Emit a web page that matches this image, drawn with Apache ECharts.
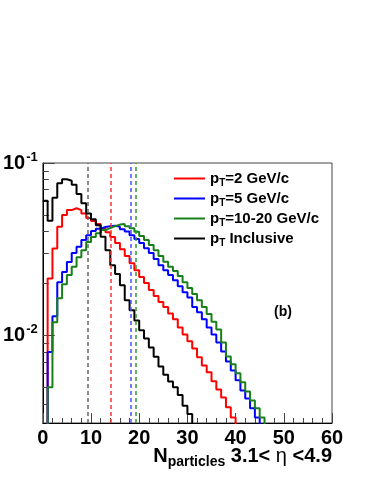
<!DOCTYPE html>
<html>
<head>
<meta charset="utf-8">
<script src="https://cdn.jsdelivr.net/npm/echarts@6/dist/echarts.min.js"></script>
<style>
  html, body { margin: 0; padding: 0; background: #fff; }
  #chart { width: 374px; height: 484px; }
</style>
</head>
<body>
<div id="chart"></div>
<script>
// bin contents, one value per unit bin starting at N = 0
const emptyBin = 0.001 // below the axis floor
const pt2 = [emptyBin, 0.0214, 0.0319, 0.0426, 0.0499, 0.0533, 0.0546, 0.0533, 0.0510, 0.0480,
  0.0461, 0.0442, 0.0420, 0.0397, 0.0372, 0.0343, 0.0316, 0.0289, 0.0262, 0.0239,
  0.0218, 0.0201, 0.0183, 0.0169, 0.0156, 0.0146, 0.0134, 0.0124, 0.0111, 0.0101,
  0.00923, 0.00840, 0.00745, 0.00669, 0.00610, 0.00541, 0.00485, 0.00436, 0.00382, 0.00334]
const pt5 = [emptyBin, 0.0080, 0.0129, 0.0203, 0.0233, 0.0266, 0.0300, 0.0327, 0.0357, 0.0381,
  0.0403, 0.0416, 0.0425, 0.0430, 0.0433, 0.0427, 0.0413, 0.0400, 0.0381, 0.0362,
  0.0343, 0.0320, 0.0300, 0.0277, 0.0255, 0.0239, 0.0224, 0.0209, 0.0193, 0.0178,
  0.0166, 0.0146, 0.0136, 0.0124, 0.0111, 0.0101, 0.00910, 0.00807, 0.00706, 0.00626,
  0.00548, 0.00479, 0.00430, 0.00377, 0.00334]
const pt10 = [emptyBin, 0.0050, 0.0119, 0.0164, 0.0198, 0.0224, 0.0250, 0.0284, 0.0312, 0.0348,
  0.0372, 0.0391, 0.0408, 0.0419, 0.0430, 0.0439, 0.0442, 0.0430, 0.0418, 0.0399,
  0.0377, 0.0357, 0.0334, 0.0312, 0.0289, 0.0267, 0.0250, 0.0236, 0.0221, 0.0203,
  0.0188, 0.0174, 0.0160, 0.0146, 0.0133, 0.0120, 0.0108, 0.0091, 0.00755, 0.00679,
  0.00602, 0.00534, 0.00473, 0.00419, 0.00377, 0.00334]
const ptIncl = [0.0604, 0.0463, 0.0629, 0.0763, 0.0804, 0.0789, 0.0749, 0.0661, 0.0584, 0.0510,
  0.0471, 0.0436, 0.0373, 0.0312, 0.0255, 0.0227, 0.0195, 0.0160, 0.0140, 0.0122,
  0.0107, 0.0096, 0.0085, 0.0075, 0.0066, 0.0059, 0.0054, 0.0050, 0.0045, 0.0039, 0.0035]

const names = ['pT=2 GeV/c', 'pT=5 GeV/c', 'pT=10-20 GeV/c', 'pT Inclusive']
const legendText = ['=2 GeV/c', '=5 GeV/c', '=10-20 GeV/c', ' Inclusive']
const colors = ['#ff0000', '#0000ff', '#17801a', '#000000']
const meanColors = ['#ff3333', '#4d4dff', '#2e9a2e', '#666666']
const means = [14.1, 18.2, 19.2, 9.3]
const hists = [pt2, pt5, pt10, ptIncl]

const xTicks = [0, 10, 20, 30, 40, 50, 60]
const yLabels = [0.01, 0.1]
const yMinor = [0.004, 0.005, 0.006, 0.007, 0.008, 0.009, 0.02, 0.03, 0.04, 0.05, 0.06, 0.07, 0.08, 0.09]
const yMin = 0.0031
const yMax = 0.1

const font = 'Liberation Sans, Arial, Helvetica, sans-serif'

// step outline: left edge of every bin, then drop at the last edge
const toSteps = vals => {
  const pts = vals.map((v, i) => [i, v])
  pts.push([vals.length, emptyBin])
  return pts
}

const chart = echarts.init(document.getElementById('chart'))

const option = {
  backgroundColor: '#fff',
  animation: false,
  grid: { left: 42, right: 42, top: 163, bottom: 61, show: true, borderColor: '#444', borderWidth: 1 },
  legend: {
    orient: 'vertical',
    left: 169,
    top: 166,
    icon: 'rect',
    itemWidth: 31,
    itemHeight: 2,
    itemGap: 3,
    data: names.slice(),
    formatter: name => '{p|p}{t|T}{p|' + legendText[names.indexOf(name)] + '}',
    textStyle: {
      rich: {
        p: { fontFamily: font, fontWeight: 'bold', fontSize: 15, color: '#000' },
        t: { fontFamily: font, fontWeight: 'bold', fontSize: 10, color: '#000', padding: [9, 0, 0, 0] }
      }
    }
  },
  xAxis: {
    type: 'value',
    min: xTicks[0],
    max: xTicks[xTicks.length - 1],
    interval: 10,
    axisLine: { show: true, onZero: false, lineStyle: { color: '#000', width: 1 } },
    axisTick: { show: true, inside: true, length: 10, lineStyle: { color: '#444' } },
    minorTick: { show: true, splitNumber: 5, length: 5, lineStyle: { color: '#444' } },
    axisLabel: { fontFamily: font, fontWeight: 'bold', fontSize: 20, color: '#000', margin: 5 },
    splitLine: { show: false }
  },
  yAxis: [
    {
      type: 'log',
      logBase: 10,
      min: yMin,
      max: yMax,
      axisLine: { show: true, lineStyle: { color: '#000', width: 1 } },
      axisTick: { show: true, inside: true, length: 12, customValues: yLabels, lineStyle: { color: '#444' } },
      axisLabel: {
        customValues: yLabels,
        margin: 5,
        formatter: v => '{b|10}{s|' + Math.round(Math.log10(v)) + '}',
        rich: {
          b: { fontFamily: font, fontWeight: 'bold', fontSize: 20, color: '#000' },
          s: { fontFamily: font, fontWeight: 'bold', fontSize: 13, color: '#000', padding: [0, 0, 12, 1] }
        }
      },
      splitLine: { show: false }
    },
    {
      type: 'log',
      logBase: 10,
      min: yMin,
      max: yMax,
      position: 'left',
      axisLine: { show: false },
      axisTick: { show: true, inside: true, length: 6, customValues: yMinor, lineStyle: { color: '#444' } },
      axisLabel: { show: false },
      splitLine: { show: false }
    }
  ],
  series: hists.map((vals, i) => ({
    name: names[i],
    type: 'line',
    step: 'end',
    yAxisIndex: 0,
    symbol: 'none',
    clip: true,
    data: toSteps(vals),
    lineStyle: { color: colors[i], width: 2 },
    itemStyle: { color: colors[i] },
    markLine: {
      silent: true,
      symbol: 'none',
      label: { show: false },
      lineStyle: { color: meanColors[i], type: [4, 3], width: 1.5 },
      data: [{ xAxis: means[i] }]
    }
  })),
  graphic: [
    {
      type: 'text',
      right: 42,
      top: 446,
      style: {
        text: '{n|N}{sub|particles}{t| 3.1< }{eta|η}{t| <4.9}',
        rich: {
          n: { fontFamily: font, fontWeight: 'bold', fontSize: 20, fill: '#000' },
          sub: { fontFamily: font, fontWeight: 'bold', fontSize: 14, fill: '#000', padding: [12, 0, 0, 0] },
          t: { fontFamily: font, fontWeight: 'bold', fontSize: 20, fill: '#000' },
          eta: { fontFamily: font, fontSize: 20, fill: '#000' }
        }
      }
    },
    {
      type: 'text',
      left: 274,
      top: 305,
      style: { text: '(b)', fontFamily: font, fontWeight: 'bold', fontSize: 14, fill: '#000' }
    }
  ]
}

chart.setOption(option)
</script>
</body>
</html>
